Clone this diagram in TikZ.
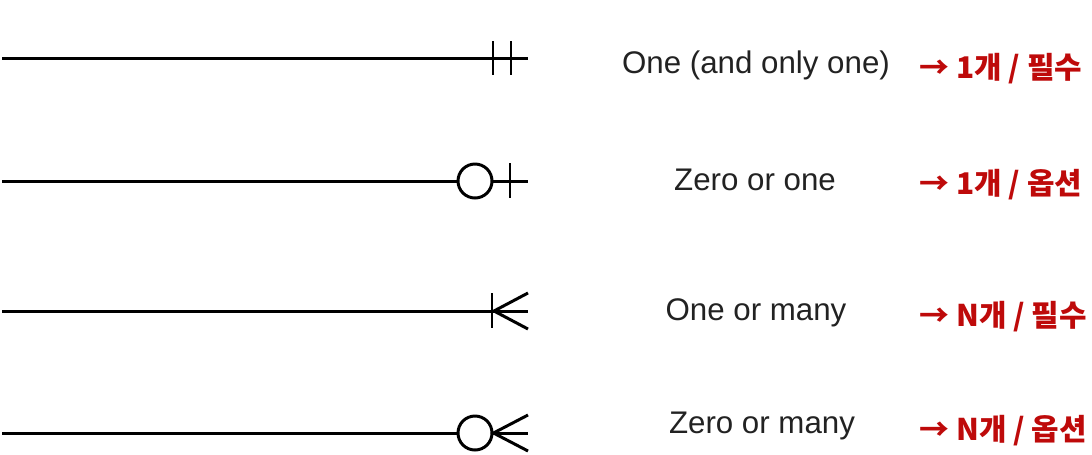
\documentclass[tikz,border=0pt]{standalone}
\usepackage{fontspec}
\setmainfont{Liberation Sans}
\newfontfamily\kofont{Noto Sans CJK KR}
\usepackage{tikz}
\definecolor{txtgray}{HTML}{222222}
\definecolor{korred}{HTML}{BE0A0A}

\begin{document}
\begin{tikzpicture}[x=0.02cm, y=-0.02cm, line width=1.7pt,
  card/.style={font=\fontsize{17.8}{20}\selectfont, text=txtgray, anchor=base, inner sep=0pt},
  kor/.style={font=\kofont\bfseries\fontsize{17}{20}\selectfont, text=korred, anchor=base west, inner sep=0pt},
  ring/.style={circle, draw, minimum size=0.68cm, inner sep=0pt}]
  \useasboundingbox (0,0) rectangle (1092,454);
  % --- line ends ---
  \foreach \r/\y in {a/58.5, b/181, c/311, d/433}{
    \coordinate (\r0) at (2,\y);
    \coordinate (\r1) at (528,\y);
  }
  % --- one and only one ---
  \draw (a0) -- (a1);
  \draw (493,41) -- (493,75);
  \draw (511,41) -- (511,75);
  % --- zero or one ---
  \node[ring] (bc) at (475,181) {};
  \draw (b0) -- (bc);
  \draw (bc) -- (b1);
  \draw (510,163) -- (510,198);
  % --- one or many ---
  \draw (c0) -- (c1);
  \draw (492,293) -- (492,328);
  \draw (528,293) -- (494,311) -- (528,329);
  % --- zero or many ---
  \node[ring] (dc) at (475,433) {};
  \draw (d0) -- (dc);
  \draw (dc) -- (d1);
  \draw (528,415) -- (dc.east) -- (528,451);
  % --- labels ---
  \node[card] (ta) at (756,73) {One (and only one)};
  \node[card] (tb) at (755,190) {Zero or one};
  \node[card] (tc) at (756,320) {One or many};
  \node[card] (td) at (762,433) {Zero or many};
  \node[kor] (ka) at (918,78) {→ 1개 / 필수};
  \node[kor] (kb) at (918,194) {→ 1개 / 옵션};
  \node[kor] (kc) at (918,326) {→ N개 / 필수};
  \node[kor] (kd) at (918,440) {→ N개 / 옵션};
\end{tikzpicture}
\end{document}
